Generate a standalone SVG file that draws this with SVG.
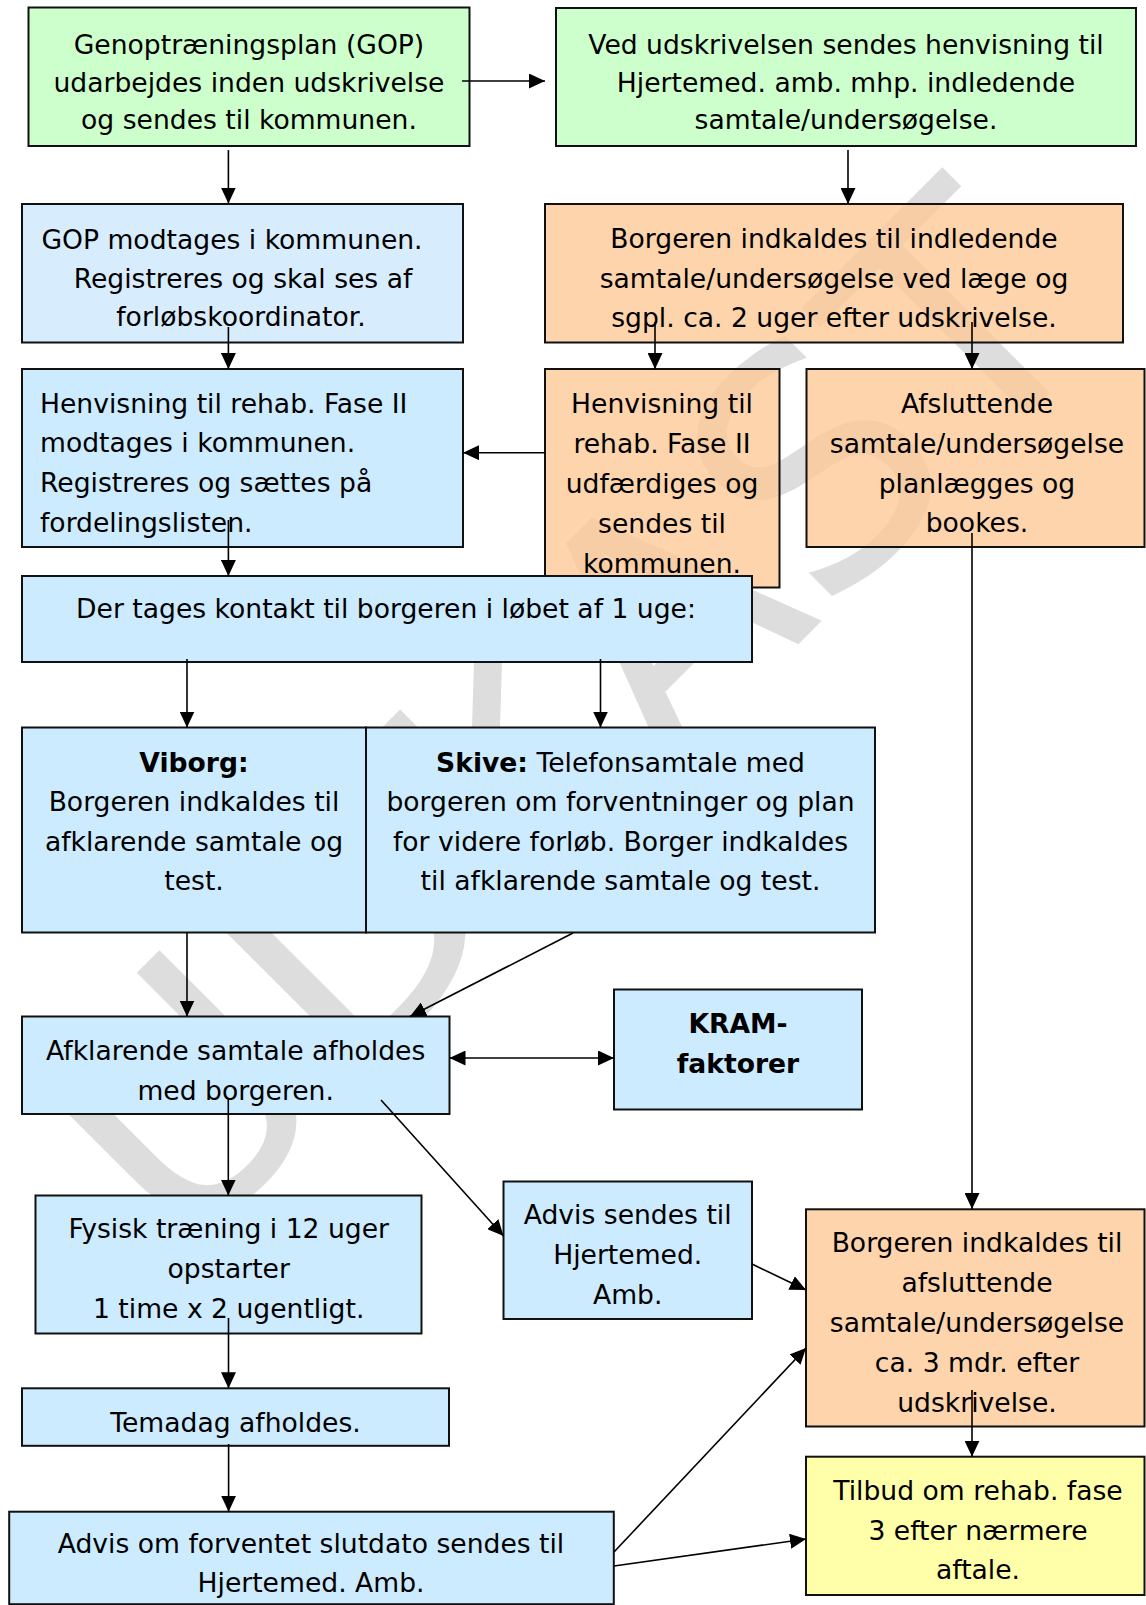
<svg xmlns="http://www.w3.org/2000/svg" width="1146" height="1605" viewBox="0 0 1146 1605">
<defs>
<style>
text{font-family:"DejaVu Sans",Verdana,sans-serif;font-size:26.6px;fill:#000}
.c{text-anchor:middle}
.bd{font-weight:bold}
.n rect{stroke:#111;stroke-width:2}
.g{fill:#CCFFCC}.b{fill:#CCEBFF}.b2{fill:#D7EDFD}.o{fill:#FCC893;fill-opacity:0.78}.y{fill:#FFFFAA}
.wm{font-size:323px;fill:#DDDDDD}
#connectors line{stroke:#000;stroke-width:1.6;fill:none;marker-end:url(#ah)}
</style>
<marker id="ah" viewBox="0 0 16 15" refX="16" refY="7.5" markerWidth="16" markerHeight="15" markerUnits="userSpaceOnUse" orient="auto-start-reverse"><path d="M0,0L16,7.5L0,15Z" fill="#000"/></marker>
</defs>
<rect width="1146" height="1605" fill="#fff"/>
<g id="watermark"><text class="wm" x="178.6" y="1264" transform="rotate(-45 178.6 1264)">UDKAST</text></g>

<g id="n1" class="n"><rect class="g" x="28.5" y="7.5" width="441" height="138.5"/>
<text class="c" x="249" y="54">Genoptræningsplan (GOP)</text>
<text class="c" x="249" y="91.5">udarbejdes inden udskrivelse</text>
<text class="c" x="249" y="129">og sendes til kommunen.</text></g>

<g id="n2" class="n"><rect class="g" x="556" y="8" width="580" height="138"/>
<text class="c" x="846" y="54">Ved udskrivelsen sendes henvisning til</text>
<text class="c" x="846" y="91.5">Hjertemed. amb. mhp. indledende</text>
<text class="c" x="846" y="129">samtale/undersøgelse.</text></g>

<g id="n3" class="n"><rect class="b2" x="22" y="204" width="441" height="138.5"/>
<text class="c" x="232" y="249">GOP modtages i kommunen.</text>
<text class="c" x="243" y="287.5">Registreres og skal ses af</text>
<text class="c" x="241" y="326">forløbskoordinator.</text></g>

<g id="n4" class="n"><rect class="o" x="545" y="204" width="578" height="138.5"/>
<text class="c" x="834" y="248">Borgeren indkaldes til indledende</text>
<text class="c" x="834" y="287.5">samtale/undersøgelse ved læge og</text>
<text class="c" x="834" y="327">sgpl. ca. 2 uger efter udskrivelse.</text></g>

<g id="n5" class="n"><rect class="o" x="545" y="369" width="234.5" height="218.5"/>
<text class="c" x="662" y="413">Henvisning til</text>
<text class="c" x="662" y="453">rehab. Fase II</text>
<text class="c" x="662" y="493">udfærdiges og</text>
<text class="c" x="662" y="533">sendes til</text>
<text class="c" x="662" y="573">kommunen.</text></g>

<g id="n6" class="n"><rect class="o" x="806.5" y="369" width="338" height="178"/>
<text class="c" x="977" y="413">Afsluttende</text>
<text class="c" x="977" y="452.5">samtale/undersøgelse</text>
<text class="c" x="977" y="492.5">planlægges og</text>
<text class="c" x="977" y="532">bookes.</text></g>

<g id="n7" class="n"><rect class="b" x="22" y="369" width="441" height="178"/>
<text x="40" y="413">Henvisning til rehab. Fase II</text>
<text x="40" y="452">modtages i kommunen.</text>
<text x="40" y="492">Registreres og sættes på</text>
<text x="40" y="532">fordelingslisten.</text></g>

<g id="n8" class="n"><rect class="b" x="22" y="576" width="730" height="86"/>
<text class="c" x="386" y="618">Der tages kontakt til borgeren i løbet af 1 uge:</text></g>

<g id="n9" class="n"><rect class="b" x="22" y="727.5" width="344" height="205"/>
<text class="c bd" x="194" y="771.5">Viborg:</text>
<text class="c" x="194" y="811">Borgeren indkaldes til</text>
<text class="c" x="194" y="850.5">afklarende samtale og</text>
<text class="c" x="194" y="890">test.</text></g>

<g id="n10" class="n"><rect class="b" x="366" y="727.5" width="509" height="205"/>
<text class="c" x="620.5" y="771.5"><tspan class="bd">Skive:</tspan> Telefonsamtale med</text>
<text class="c" x="620.5" y="811">borgeren om forventninger og plan</text>
<text class="c" x="620.5" y="850.5">for videre forløb. Borger indkaldes</text>
<text class="c" x="620.5" y="890">til afklarende samtale og test.</text></g>

<g id="n11" class="n"><rect class="b" x="22" y="1016.5" width="427.5" height="97.5"/>
<text class="c" x="235.7" y="1060">Afklarende samtale afholdes</text>
<text class="c" x="235.7" y="1099.5">med borgeren.</text></g>

<g id="n12" class="n"><rect class="b" x="614" y="989.5" width="248" height="120"/>
<text class="c bd" x="738" y="1032.5">KRAM-</text>
<text class="c bd" x="738" y="1072.5">faktorer</text></g>

<g id="n13" class="n"><rect class="b" x="35.5" y="1195.5" width="386" height="138"/>
<text class="c" x="228.7" y="1238.3">Fysisk træning i 12 uger</text>
<text class="c" x="228.7" y="1278.3">opstarter</text>
<text class="c" x="228.7" y="1318.3">1 time x 2 ugentligt.</text></g>

<g id="n14" class="n"><rect class="b" x="503.5" y="1181.5" width="248.5" height="137.5"/>
<text class="c" x="627.7" y="1223.5">Advis sendes til</text>
<text class="c" x="627.7" y="1263.5">Hjertemed.</text>
<text class="c" x="627.7" y="1303.5">Amb.</text></g>

<g id="n15" class="n"><rect class="b" x="22" y="1388.3" width="427" height="57.5"/>
<text class="c" x="235.5" y="1431.5">Temadag afholdes.</text></g>

<g id="n16" class="n"><rect class="b" x="9.2" y="1511.7" width="604.6" height="92.5"/>
<text class="c" x="311" y="1553.3">Advis om forventet slutdato sendes til</text>
<text class="c" x="311" y="1591.7">Hjertemed. Amb.</text></g>

<g id="n17" class="n"><rect class="o" x="806" y="1209.3" width="338.5" height="217.2"/>
<text class="c" x="977" y="1251.7">Borgeren indkaldes til</text>
<text class="c" x="977" y="1291.7">afsluttende</text>
<text class="c" x="977" y="1331.7">samtale/undersøgelse</text>
<text class="c" x="977" y="1371.7">ca. 3 mdr. efter</text>
<text class="c" x="977" y="1411.7">udskrivelse.</text></g>

<g id="n18" class="n"><rect class="y" x="806" y="1456.7" width="338.5" height="138.3"/>
<text class="c" x="978" y="1500">Tilbud om rehab. fase</text>
<text class="c" x="978" y="1540">3 efter nærmere</text>
<text class="c" x="978" y="1579.3">aftale.</text></g>

<g id="connectors">
<line x1="462" y1="81" x2="545" y2="81"/>
<line x1="228.4" y1="150" x2="228.4" y2="203.5"/>
<line x1="848" y1="150" x2="848" y2="204"/>
<line x1="228.4" y1="327" x2="228.4" y2="369"/>
<line x1="655" y1="322" x2="655" y2="369"/>
<line x1="972" y1="322" x2="972" y2="369"/>
<line x1="545" y1="452.7" x2="463" y2="452.7"/>
<line x1="228.4" y1="520" x2="228.4" y2="576"/>
<line x1="972" y1="533" x2="972" y2="1209"/>
<line x1="187" y1="659" x2="187" y2="727.5"/>
<line x1="600.5" y1="659" x2="600.5" y2="727.5"/>
<line x1="187" y1="932.5" x2="187" y2="1016.5"/>
<line x1="573" y1="933" x2="410" y2="1016.5"/>
<line x1="449.5" y1="1058" x2="614" y2="1058" style="marker-start:url(#ah)"/>
<line x1="228.3" y1="1099" x2="228.3" y2="1195.5"/>
<line x1="381" y1="1100" x2="503.5" y2="1236"/>
<line x1="228.5" y1="1318" x2="228.5" y2="1388.3"/>
<line x1="228.6" y1="1444" x2="228.6" y2="1511.7"/>
<line x1="614" y1="1552" x2="806" y2="1348"/>
<line x1="614" y1="1566" x2="806" y2="1539"/>
<line x1="752" y1="1264" x2="806" y2="1290"/>
<line x1="972" y1="1390" x2="972" y2="1456.7"/>
</g>
</svg>
